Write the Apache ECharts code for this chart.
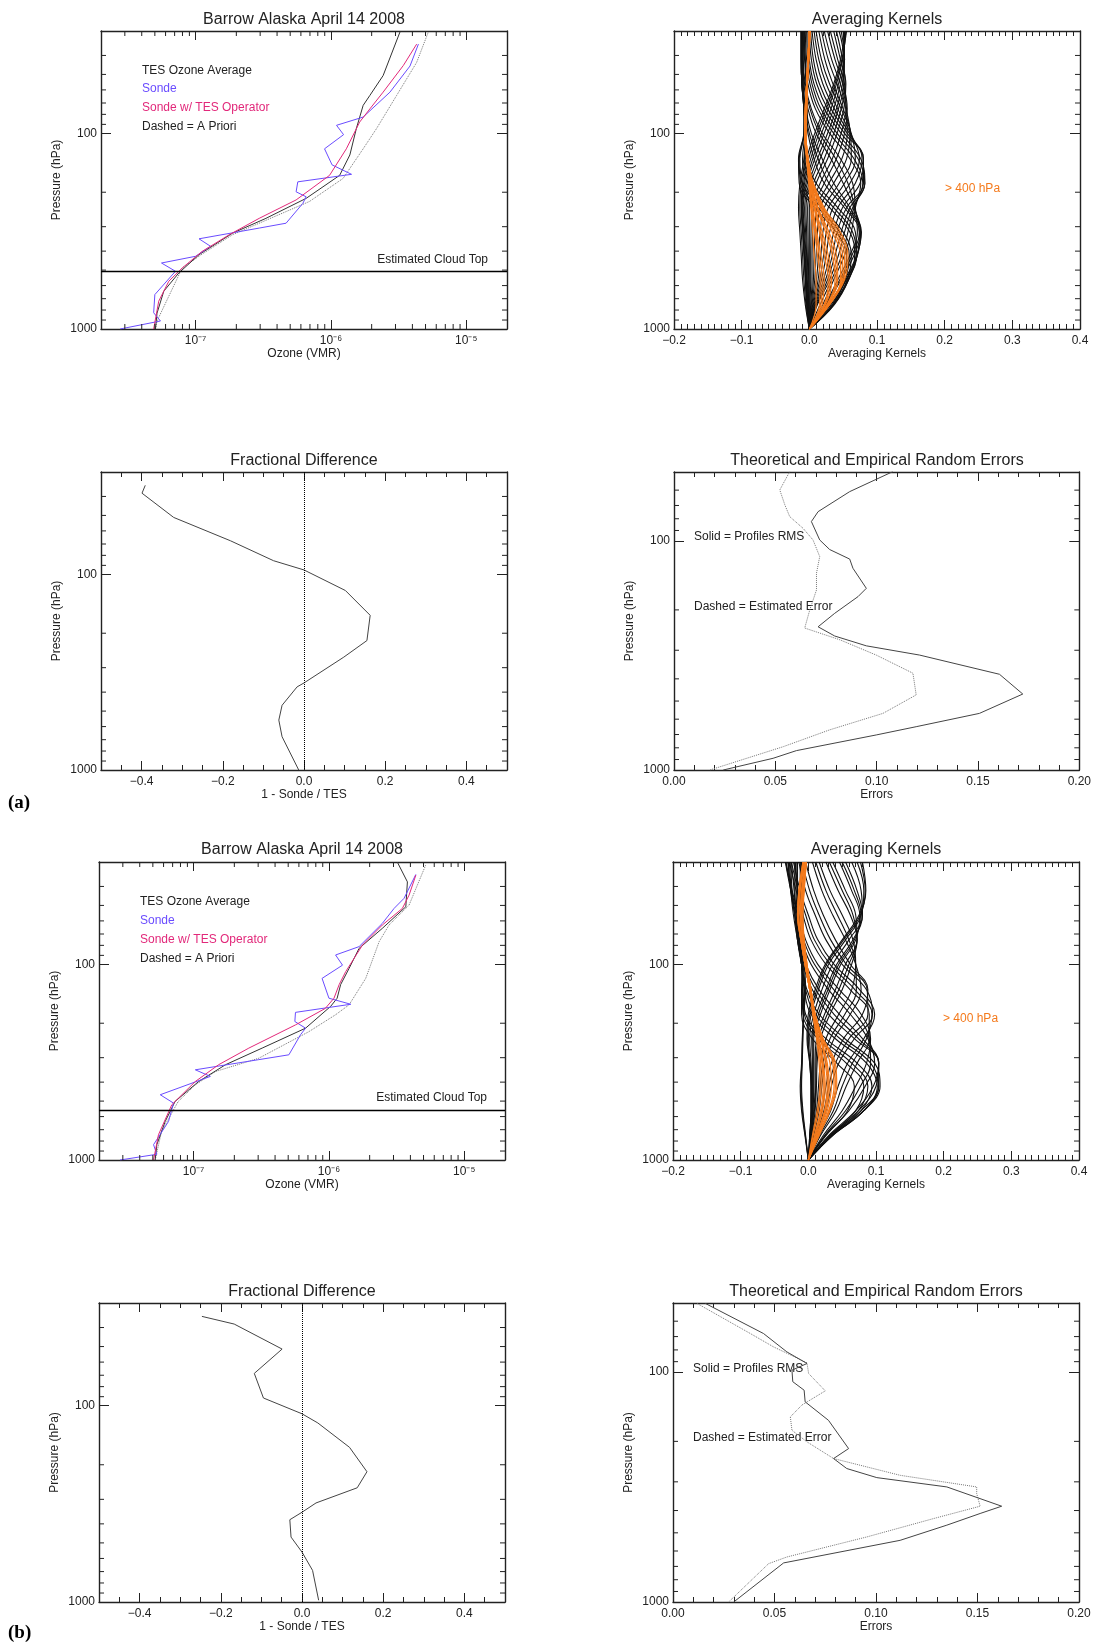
<!DOCTYPE html>
<html>
<head>
<meta charset="utf-8">
<script src="https://cdn.jsdelivr.net/npm/echarts@6.0.0/dist/echarts.min.js"></script>
<style>html,body{margin:0;padding:0;background:#fff}#main{width:1094px;height:1644px}</style>
</head>
<body>
<div id="main"></div>
<script>
// ---- ozone profiles, panel (a) : pressure (hPa) / VMR
var sondeA_p = [1000, 910, 826, 667, 507, 460, 425, 378, 346, 305, 288, 228, 211, 199, 177, 162, 145, 120, 101.6, 91, 82.6, 61.6, 45.3, 35];
var sondeA_v = [2.77e-8, 5.5e-8, 4.9e-8, 5.0e-8, 7.1e-8, 5.6e-8, 1.0e-7, 1.29e-7, 1.06e-7, 2.95e-7, 4.66e-7, 6.2e-7, 6.56e-7, 5.53e-7, 5.69e-7, 1.42e-6, 1.02e-6, 8.97e-7, 1.24e-6, 1.10e-6, 1.73e-6, 2.73e-6, 3.84e-6, 4.43e-6];
var tesA_p = [1000, 830, 641, 517, 417, 324, 272, 215, 164, 129, 94.7, 72, 64, 50.7, 30.3];
var tesA_v = [5.05e-8, 5.19e-8, 5.82e-8, 7.52e-8, 1.06e-7, 1.87e-7, 3.31e-7, 6.56e-7, 1.16e-6, 1.38e-6, 1.54e-6, 1.73e-6, 1.94e-6, 2.43e-6, 3.24e-6];
var opA_p = [1000, 721, 570, 488, 401, 330, 272, 219, 164, 120, 87.6, 75, 61.6, 45, 35];
var opA_v = [4.9e-8, 5.34e-8, 6.34e-8, 7.96e-8, 1.12e-7, 1.77e-7, 2.95e-7, 5.53e-7, 9.77e-7, 1.30e-6, 1.63e-6, 1.94e-6, 2.43e-6, 3.43e-6, 4.30e-6];
var aprA_p = [1000, 910, 488, 417, 330, 223, 170, 120, 94.7, 64, 43.4, 30.3];
var aprA_v = [5.05e-8, 5.19e-8, 7.96e-8, 1.1e-7, 1.87e-7, 6.94e-7, 1.23e-6, 1.73e-6, 2.17e-6, 3.06e-6, 4.30e-6, 5.25e-6];
var cloudTopA = 505;

// ---- ozone profiles, panel (b)
var sondeB_p = [1000, 935, 835, 635, 512, 464, 374, 346, 307, 290, 229, 212, 196, 176, 160, 149, 118, 101, 89.6, 81.2, 61.8, 51.8, 46, 34.7];
var sondeB_v = [2.86e-8, 5.35e-8, 5.06e-8, 6.53e-8, 7.11e-8, 5.67e-8, 1.33e-7, 1.03e-7, 3.03e-7, 5.06e-7, 6.17e-7, 6.72e-7, 5.6e-7, 5.66e-7, 1.45e-6, 1.0e-6, 8.9e-7, 1.26e-6, 1.12e-6, 1.67e-6, 2.48e-6, 3.03e-6, 3.59e-6, 4.39e-6];
var tesB_p = [1000, 835, 635, 502, 397, 326, 268, 212, 164, 149, 127, 104.8, 82.9, 65.5, 50.8, 37.9, 30];
var tesB_v = [5.2e-8, 5.35e-8, 6.17e-8, 7.3e-8, 1.09e-7, 1.72e-7, 3.21e-7, 6.72e-7, 1.03e-6, 1.15e-6, 1.22e-6, 1.41e-6, 1.67e-6, 2.48e-6, 3.7e-6, 3.8e-6, 3.2e-6];
var opB_p = [1000, 743, 522, 397, 326, 268, 204, 168, 149, 127, 109, 79.7, 63, 51.8, 44.3, 35];
var opB_v = [5.06e-8, 5.5e-8, 6.9e-8, 1.03e-7, 1.53e-7, 2.56e-7, 5.66e-7, 9.4e-7, 1.09e-6, 1.19e-6, 1.33e-6, 1.77e-6, 2.48e-6, 3.49e-6, 3.91e-6, 4.39e-6];
var aprB_p = [1000, 714, 502, 413, 353, 302, 221, 181, 161, 118, 76.6, 63, 49.8, 31];
var aprB_v = [5.2e-8, 5.8e-8, 7.7e-8, 1.03e-7, 1.45e-7, 3.03e-7, 7.1e-7, 1.12e-6, 1.41e-6, 1.87e-6, 2.35e-6, 2.78e-6, 3.91e-6, 5.2e-6];
var cloudTopB = 558;

// ---- fractional difference 1 - Sonde/TES
var fdA_p = [35.1, 38.5, 51.2, 67.4, 85.2, 95, 121, 162, 218, 265, 359, 376, 467, 556, 676, 1000];
var fdA_v = [-0.391, -0.399, -0.321, -0.181, -0.075, 0.0, 0.102, 0.163, 0.155, 0.098, 0.0, -0.017, -0.054, -0.062, -0.054, -0.013];
var fdB_p = [35.1, 38.4, 51.5, 68.5, 91.4, 110, 122.5, 163, 217, 262, 313, 349, 381, 467, 557, 690, 980];
var fdB_v = [-0.2465, -0.167, -0.049, -0.1175, -0.095, 0.0, 0.039, 0.117, 0.160, 0.136, 0.0345, 0.0, -0.030, -0.027, 0.0, 0.026, 0.041];

// ---- random errors (solid = profiles RMS, dashed = estimated)
var rmsA_p = [49.8, 60.9, 74.5, 82.3, 99, 109, 120, 131.6, 161, 175, 207, 237, 260, 287, 315, 382, 466, 566, 647, 703, 823, 889, 1000];
var rmsA_v = [0.108, 0.0867, 0.0711, 0.0678, 0.0719, 0.0768, 0.0867, 0.0883, 0.0949, 0.0908, 0.0793, 0.0711, 0.0793, 0.0949, 0.1212, 0.1606, 0.1721, 0.1507, 0.1195, 0.0998, 0.0604, 0.0489, 0.0243];
var estA_p = [49.8, 59.9, 69.6, 78.3, 88.1, 99, 117, 138.4, 163.7, 200, 240, 270, 315, 378, 470, 566, 668, 791, 1000];
var estA_v = [0.0571, 0.0522, 0.0547, 0.0571, 0.0637, 0.0686, 0.0719, 0.0703, 0.0703, 0.067, 0.0645, 0.0818, 0.0998, 0.1179, 0.1195, 0.1031, 0.0768, 0.0539, 0.0177];
var rmsB_p = [50.2, 67.9, 81.6, 91.7, 98, 110, 119.8, 134.6, 162, 215, 237.6, 262.6, 287.6, 315.7, 383, 412, 463, 539, 676, 1000];
var rmsB_v = [0.0159, 0.0446, 0.0561, 0.066, 0.0586, 0.059, 0.0646, 0.0651, 0.0766, 0.0865, 0.0791, 0.0856, 0.1004, 0.1349, 0.1619, 0.1513, 0.1349, 0.1119, 0.0545, 0.0299];
var estB_p = [50.2, 67.9, 77.6, 91, 101.3, 120.6, 139, 156.5, 179, 201, 237.6, 281, 315.7, 337.5, 383, 433.6, 521, 637, 681, 1000];
var estB_v = [0.0118, 0.0381, 0.0495, 0.066, 0.0668, 0.075, 0.0635, 0.0578, 0.0586, 0.066, 0.0791, 0.1119, 0.1496, 0.1496, 0.1513, 0.1283, 0.0955, 0.0561, 0.0471, 0.0274];

// ---- averaging kernel rows, read at these levels
var akP = [1000, 750, 560, 420, 320, 240, 180, 135, 100, 75, 56, 42, 30];
var akBlackA = [
  [0,-0.004,-0.006,-0.008,-0.010,-0.012,-0.010,-0.004,0.008,0.022,0.036,0.046,0.053],
  [0,-0.0035,-0.0055,-0.0075,-0.0095,-0.0115,-0.0085,-0.001,0.011,0.025,0.038,0.048,0.055],
  [0,-0.003,-0.005,-0.007,-0.009,-0.011,-0.007,0.002,0.014,0.028,0.040,0.049,0.054],
  [0,-0.0025,-0.0045,-0.006,-0.008,-0.010,-0.005,0.005,0.018,0.032,0.043,0.051,0.052],
  [0,-0.002,-0.004,-0.005,-0.007,-0.009,-0.003,0.008,0.022,0.036,0.046,0.052,0.050],
  [0,-0.0015,-0.003,-0.004,-0.0055,-0.007,-0.0005,0.012,0.027,0.040,0.049,0.052,0.047],
  [0,-0.001,-0.002,-0.003,-0.004,-0.005,0.002,0.016,0.031,0.043,0.051,0.051,0.044],
  [0,-0.0005,-0.001,-0.0015,-0.002,-0.0025,0.006,0.022,0.036,0.047,0.053,0.049,0.040],
  [0,0.000,0.000,0.000,0.000,0.000,0.010,0.027,0.041,0.051,0.054,0.046,0.036],
  [0,0.001,0.002,0.002,0.0025,0.0035,0.016,0.034,0.047,0.054,0.052,0.042,0.031],
  [0,0.002,0.004,0.004,0.005,0.007,0.022,0.040,0.052,0.056,0.050,0.038,0.027],
  [0,0.003,0.006,0.007,0.0085,0.011,0.029,0.048,0.056,0.055,0.046,0.033,0.022],
  [0,0.004,0.008,0.010,0.012,0.016,0.036,0.055,0.060,0.054,0.041,0.028,0.018],
  [0,0.005,0.0105,0.0135,0.016,0.022,0.044,0.062,0.061,0.050,0.035,0.023,0.014],
  [0,0.006,0.013,0.017,0.020,0.028,0.052,0.068,0.062,0.047,0.030,0.018,0.010],
  [0,0.007,0.0155,0.021,0.025,0.035,0.060,0.074,0.061,0.042,0.025,0.014,0.007],
  [0,0.008,0.018,0.025,0.030,0.042,0.068,0.078,0.059,0.037,0.020,0.010,0.004],
  [0,0.009,0.021,0.030,0.036,0.049,0.075,0.080,0.056,0.032,0.015,0.006,0.002],
  [0,0.010,0.024,0.034,0.041,0.055,0.080,0.080,0.052,0.027,0.011,0.003,0.000],
  [0,0.011,0.027,0.038,0.047,0.060,0.082,0.076,0.047,0.022,0.007,0.000,-0.002],
  [0,0.012,0.030,0.043,0.052,0.064,0.082,0.072,0.041,0.017,0.004,-0.002,-0.004],
  [0,0.016,0.033,0.048,0.057,0.066,0.079,0.066,0.036,0.013,0.001,-0.004,-0.006],
  [0,0.020,0.036,0.052,0.062,0.068,0.076,0.060,0.030,0.009,-0.002,-0.006,-0.007],
  [0,0.023,0.042,0.060,0.071,0.068,0.064,0.046,0.019,0.003,-0.006,-0.009,-0.009],
  [0,0.024,0.045,0.063,0.074,0.067,0.057,0.039,0.015,0.001,-0.007,-0.0095,-0.0095],
  [0,0.025,0.047,0.066,0.076,0.066,0.050,0.032,0.010,-0.002,-0.008,-0.010,-0.010],
  [0,0.028,0.052,0.070,0.077,0.060,0.036,0.019,0.003,-0.005,-0.010,-0.011,-0.011],
  [0,0.030,0.054,0.071,0.076,0.056,0.029,0.013,0.000,-0.006,-0.0105,-0.0115,-0.0115],
  [0,0.032,0.055,0.071,0.074,0.052,0.022,0.007,-0.002,-0.007,-0.011,-0.012,-0.012],
  [0,0.035,0.057,0.070,0.068,0.042,0.010,-0.003,-0.005,-0.008,-0.011,-0.012,-0.012],
  [0,0.036,0.058,0.069,0.064,0.036,0.004,-0.007,-0.006,-0.008,-0.011,-0.012,-0.012],
  [0,0.037,0.058,0.067,0.060,0.030,-0.002,-0.010,-0.007,-0.008,-0.011,-0.012,-0.012],
  [0,0.036,0.056,0.062,0.050,0.018,-0.010,-0.014,-0.008,-0.008,-0.010,-0.011,-0.011],
  [0,0.035,0.053,0.059,0.045,0.013,-0.013,-0.015,-0.008,-0.0075,-0.0095,-0.0105,-0.0105],
  [0,0.034,0.050,0.055,0.040,0.008,-0.015,-0.016,-0.008,-0.007,-0.009,-0.010,-0.010],
  [0,-0.005,-0.008,-0.010,-0.012,-0.014,-0.012,-0.006,-0.004,-0.003,-0.004,-0.006,-0.008],
  [0,-0.006,-0.010,-0.012,-0.014,-0.016,-0.014,-0.008,-0.005,-0.004,-0.005,-0.007,-0.010]
];
var akOrangeA = [
  [0,0.030,0.052,0.057,0.046,0.022,0.006,-0.002,-0.005,-0.004,-0.003,-0.001,0.001],
  [0,0.0295,0.0505,0.0545,0.043,0.0205,0.0055,-0.002,-0.005,-0.004,-0.003,-0.001,0.001],
  [0,0.029,0.049,0.052,0.040,0.019,0.005,-0.002,-0.005,-0.004,-0.003,-0.001,0.001],
  [0,0.0285,0.0475,0.049,0.037,0.0175,0.0045,-0.002,-0.005,-0.004,-0.003,-0.001,0.001],
  [0,0.028,0.046,0.046,0.034,0.016,0.004,-0.002,-0.005,-0.004,-0.003,-0.001,0.001],
  [0,0.027,0.042,0.040,0.029,0.013,0.003,-0.002,-0.006,-0.005,-0.003,-0.001,0.001],
  [0,0.0265,0.040,0.037,0.0265,0.012,0.003,-0.002,-0.006,-0.005,-0.003,-0.0015,0.0005],
  [0,0.026,0.038,0.034,0.024,0.011,0.003,-0.002,-0.006,-0.005,-0.003,-0.002,0.000],
  [0,0.024,0.033,0.028,0.019,0.009,0.002,-0.003,-0.006,-0.005,-0.004,-0.002,0.000],
  [0,0.023,0.0305,0.025,0.017,0.008,0.0015,-0.003,-0.006,-0.005,-0.004,-0.002,0.000],
  [0,0.022,0.028,0.022,0.015,0.007,0.001,-0.003,-0.006,-0.005,-0.004,-0.002,0.000],
  [0,0.019,0.022,0.017,0.011,0.005,0.000,-0.003,-0.007,-0.006,-0.004,-0.002,0.000],
  [0,0.017,0.019,0.0145,0.0095,0.004,0.000,-0.0035,-0.007,-0.006,-0.004,-0.002,0.000],
  [0,0.015,0.016,0.012,0.008,0.003,0.000,-0.004,-0.007,-0.006,-0.004,-0.002,0.000],
  [0,0.010,0.010,0.007,0.005,0.002,-0.001,-0.004,-0.007,-0.006,-0.004,-0.002,0.000]
];
var akBlackB = [
  [0,0.002,0.004,0.004,0.002,-0.002,0.000,0.010,0.025,0.050,0.075,0.085,0.080],
  [0,0.0025,0.0045,0.0045,0.003,-0.001,0.002,0.0125,0.027,0.052,0.077,0.084,0.077],
  [0,0.002,0.004,0.004,0.002,0.000,0.004,0.015,0.030,0.055,0.078,0.082,0.072],
  [0,0.003,0.005,0.005,0.004,0.002,0.008,0.020,0.036,0.060,0.080,0.078,0.064],
  [0,0.003,0.006,0.006,0.006,0.005,0.012,0.026,0.042,0.066,0.080,0.072,0.055],
  [0,0.0035,0.0065,0.007,0.007,0.0065,0.015,0.029,0.045,0.068,0.078,0.068,0.050],
  [0,0.004,0.007,0.008,0.008,0.008,0.018,0.032,0.048,0.070,0.076,0.064,0.046],
  [0,0.004,0.008,0.010,0.010,0.012,0.024,0.040,0.055,0.072,0.070,0.055,0.036],
  [0,0.0045,0.009,0.011,0.0115,0.015,0.028,0.045,0.060,0.072,0.066,0.050,0.031],
  [0,0.005,0.010,0.012,0.013,0.018,0.032,0.050,0.064,0.072,0.062,0.044,0.026],
  [0,0.006,0.012,0.015,0.018,0.026,0.045,0.064,0.070,0.066,0.050,0.032,0.016],
  [0,0.007,0.014,0.0175,0.0215,0.032,0.054,0.071,0.070,0.060,0.043,0.026,0.011],
  [0,0.008,0.016,0.020,0.025,0.038,0.062,0.078,0.070,0.055,0.036,0.020,0.006],
  [0,0.010,0.020,0.026,0.034,0.052,0.080,0.088,0.062,0.040,0.022,0.008,-0.004],
  [0,0.011,0.023,0.030,0.040,0.060,0.088,0.087,0.056,0.033,0.016,0.002,-0.009],
  [0,0.012,0.026,0.034,0.045,0.068,0.095,0.086,0.050,0.026,0.010,-0.004,-0.014],
  [0,0.015,0.033,0.044,0.058,0.082,0.098,0.076,0.038,0.014,0.000,-0.012,-0.022],
  [0,0.0165,0.037,0.050,0.065,0.086,0.094,0.069,0.032,0.009,-0.004,-0.015,-0.025],
  [0,0.018,0.041,0.056,0.072,0.090,0.090,0.062,0.026,0.004,-0.008,-0.018,-0.028],
  [0,0.022,0.050,0.070,0.086,0.092,0.078,0.046,0.014,-0.004,-0.014,-0.024,-0.033],
  [0,0.024,0.055,0.077,0.092,0.090,0.070,0.038,0.009,-0.007,-0.016,-0.025,-0.0335],
  [0,0.026,0.060,0.084,0.098,0.088,0.062,0.030,0.004,-0.010,-0.018,-0.026,-0.034],
  [0,0.030,0.070,0.096,0.104,0.080,0.046,0.016,-0.004,-0.014,-0.020,-0.026,-0.030],
  [0,0.0315,0.074,0.100,0.104,0.074,0.038,0.011,-0.006,-0.015,-0.020,-0.025,-0.028],
  [0,0.033,0.078,0.104,0.104,0.068,0.030,0.006,-0.008,-0.016,-0.020,-0.024,-0.026],
  [0,0.035,0.082,0.106,0.098,0.054,0.016,-0.002,-0.010,-0.016,-0.018,-0.020,-0.020],
  [0,0.0355,0.082,0.104,0.092,0.047,0.010,-0.004,-0.010,-0.015,-0.0165,-0.018,-0.018],
  [0,0.036,0.082,0.102,0.086,0.040,0.004,-0.006,-0.010,-0.014,-0.015,-0.016,-0.016],
  [0,0.035,0.078,0.094,0.072,0.026,-0.004,-0.008,-0.010,-0.012,-0.012,-0.012,-0.012],
  [0,0.0335,0.074,0.088,0.064,0.020,-0.006,-0.0085,-0.0095,-0.011,-0.011,-0.011,-0.011],
  [0,0.032,0.070,0.082,0.056,0.014,-0.008,-0.009,-0.009,-0.010,-0.010,-0.010,-0.010],
  [0,0.025,0.058,0.068,0.042,0.006,-0.010,-0.010,-0.008,-0.008,-0.008,-0.008,-0.006],
  [0,-0.004,-0.008,-0.010,-0.009,-0.008,-0.007,-0.006,-0.010,-0.016,-0.022,-0.026,-0.030],
  [0,-0.0045,-0.009,-0.011,-0.0095,-0.0085,-0.007,-0.005,-0.008,-0.013,-0.018,-0.021,-0.025],
  [0,-0.005,-0.010,-0.012,-0.010,-0.009,-0.007,-0.004,-0.006,-0.010,-0.014,-0.016,-0.020]
];
var akOrangeB = [
  [0,0.016,0.032,0.042,0.040,0.022,0.010,0.004,-0.002,-0.006,-0.008,-0.006,-0.003],
  [0,0.0155,0.031,0.040,0.038,0.0215,0.010,0.004,-0.002,-0.0065,-0.0085,-0.0065,-0.003],
  [0,0.015,0.030,0.038,0.036,0.021,0.010,0.004,-0.002,-0.007,-0.009,-0.007,-0.003],
  [0,0.014,0.028,0.034,0.032,0.020,0.010,0.003,-0.003,-0.008,-0.010,-0.008,-0.004],
  [0,0.013,0.026,0.031,0.028,0.019,0.009,0.003,-0.003,-0.008,-0.011,-0.009,-0.004],
  [0,0.0125,0.025,0.0295,0.0265,0.0185,0.009,0.003,-0.0035,-0.0085,-0.0115,-0.0095,-0.0045],
  [0,0.012,0.024,0.028,0.025,0.018,0.009,0.003,-0.004,-0.009,-0.012,-0.010,-0.005],
  [0,0.011,0.021,0.025,0.022,0.016,0.008,0.002,-0.004,-0.010,-0.014,-0.012,-0.006],
  [0,0.010,0.0195,0.0235,0.021,0.015,0.008,0.002,-0.0045,-0.0105,-0.0145,-0.0125,-0.0065],
  [0,0.009,0.018,0.022,0.020,0.014,0.008,0.002,-0.005,-0.011,-0.015,-0.013,-0.007],
  [0,0.007,0.015,0.019,0.018,0.013,0.007,0.002,-0.005,-0.011,-0.016,-0.014,-0.008],
  [0,0.006,0.013,0.017,0.016,0.012,0.0065,0.002,-0.005,-0.011,-0.016,-0.014,-0.008]
];

// ---- minor tick values
var pMinor30 = [40, 50, 60, 70, 80, 90, 200, 300, 400, 500, 600, 700, 800, 900];
var pMinor50 = [60, 70, 80, 90, 200, 300, 400, 500, 600, 700, 800, 900];
var vmrMinor = [3e-8, 4e-8, 5e-8, 6e-8, 7e-8, 8e-8, 9e-8, 2e-7, 3e-7, 4e-7, 5e-7, 6e-7, 7e-7, 8e-7, 9e-7,
                2e-6, 3e-6, 4e-6, 5e-6, 6e-6, 7e-6, 8e-6, 9e-6];

var FONT = '"Liberation Sans", Arial, Helvetica, sans-serif';
var INK = '#222';
var BLUE = '#6a4cff';
var PINK = '#e2287a';
var ORANGE = '#f47a1c';

var chart = echarts.init(document.getElementById('main'));

var grids = [
  {left: 101, top: 31, width: 406, height: 298},
  {left: 674, top: 31, width: 406, height: 298},
  {left: 101, top: 472, width: 406, height: 298},
  {left: 674, top: 472, width: 406, height: 298},
  {left: 99, top: 862, width: 406, height: 298},
  {left: 673, top: 862, width: 406, height: 298},
  {left: 99, top: 1303, width: 406, height: 299},
  {left: 673, top: 1303, width: 406, height: 299}
];
var kinds = ['oz', 'ak', 'fd', 'err', 'oz', 'ak', 'fd', 'err'];

function pairs(p, v) { return p.map(function (pp, i) { return [v[i], pp]; }); }
function minus(s) { return s.replace('-', '\u2212'); }
var supMap = {'-': '\u207b', '0': '\u2070', '1': '\u00b9', '2': '\u00b2', '3': '\u00b3', '4': '\u2074',
              '5': '\u2075', '6': '\u2076', '7': '\u2077', '8': '\u2078', '9': '\u2079'};
function decadeOnly(v) {
  var l = Math.log10(v);
  return Math.abs(l - Math.round(l)) < 1e-6 ? String(Math.round(v)) : '';
}
function powLabel(v) {
  var l = Math.log10(v), e = Math.round(l);
  if (Math.abs(l - e) > 1e-6) return '';
  return '10' + String(e).split('').map(function (c) { return supMap[c]; }).join('');
}

var xRange = {oz: [2e-8, 2e-5], ak: [-0.2, 0.4], fd: [-0.5, 0.5], err: [0, 0.2]};
var xName = {oz: 'Ozone (VMR)', ak: 'Averaging Kernels', fd: '1 - Sonde / TES', err: 'Errors'};
function yMin(kind) { return kind === 'err' ? 50 : 30; }

var xAxes = [], yAxes = [];
grids.forEach(function (g, i) {
  var k = kinds[i];
  ['bottom', 'top'].forEach(function (pos) {
    var ax = {
      gridIndex: i, position: pos, min: xRange[k][0], max: xRange[k][1],
      axisLine: {show: true, onZero: false, lineStyle: {color: INK, width: 1.4}},
      splitLine: {show: false},
      axisTick: {show: true, inside: true, length: 9, lineStyle: {color: INK}},
      axisLabel: {show: pos === 'bottom', color: INK, fontSize: 12, fontFamily: FONT, margin: 6}
    };
    if (k === 'oz') {
      ax.type = 'log'; ax.logBase = 10;
      ax.axisLabel.formatter = powLabel;
    } else {
      ax.type = 'value';
      ax.minorTick = {show: true, length: 5, lineStyle: {color: INK}};
      if (k === 'ak') { ax.interval = 0.1; ax.minorTick.splitNumber = 10;
        ax.axisLabel.formatter = function (v) { return minus(v.toFixed(1)); }; }
      if (k === 'fd') { ax.splitNumber = 5; ax.minorTick.splitNumber = 4;
        ax.axisLabel.showMinLabel = false; ax.axisLabel.showMaxLabel = false;
        ax.axisLabel.formatter = function (v) { return minus(v.toFixed(1)); }; }
      if (k === 'err') { ax.interval = 0.05; ax.minorTick.splitNumber = 5;
        ax.axisLabel.formatter = function (v) { return v.toFixed(2); }; }
    }
    if (pos === 'bottom') {
      ax.name = xName[k]; ax.nameLocation = 'middle'; ax.nameGap = 19;
      ax.nameTextStyle = {color: INK, fontSize: 12, fontFamily: FONT};
    }
    xAxes.push(ax);
  });
  ['left', 'right'].forEach(function (pos) {
    var ay = {
      gridIndex: i, position: pos, type: 'log', logBase: 10, min: yMin(k), max: 1000, inverse: true,
      axisLine: {show: true, onZero: false, lineStyle: {color: INK, width: 1.4}},
      splitLine: {show: false},
      axisTick: {show: true, inside: true, length: 10, lineStyle: {color: INK}},
      axisLabel: {show: pos === 'left', color: INK, fontSize: 12, fontFamily: FONT, margin: 4, formatter: decadeOnly}
    };
    if (pos === 'left') {
      ay.name = 'Pressure (hPa)'; ay.nameLocation = 'middle'; ay.nameGap = 38; ay.nameRotate = 90;
      ay.nameTextStyle = {color: INK, fontSize: 12, fontFamily: FONT};
    }
    yAxes.push(ay);
  });
});

var series = [];
function line(i, data, color, opts) {
  var s = {
    type: 'line', xAxisIndex: 2 * i, yAxisIndex: 2 * i, data: data, symbol: 'none',
    showSymbol: false, silent: true, animation: false,
    lineStyle: {color: color, width: 1, type: 'solid'}
  };
  if (opts) { for (var key in opts) s[key] = opts[key]; }
  return s;
}
function tickSeries(i, pTicks, xTicks) {
  var k = kinds[i], xr = xRange[k], yr = [yMin(k), 1000];
  var data = pTicks.map(function (p) { return [xr[0], p, 0]; })
    .concat(xTicks.map(function (v) { return [v, yr[1], 1]; }));
  return {
    type: 'custom', xAxisIndex: 2 * i, yAxisIndex: 2 * i, silent: true, animation: false,
    encode: {x: 0, y: 1}, data: data, z: 5,
    renderItem: function (params, api) {
      var L = 5, st = {stroke: INK, lineWidth: 1};
      if (api.value(2) === 0) {
        var a = api.coord([xr[0], api.value(1)]), b = api.coord([xr[1], api.value(1)]);
        return {type: 'group', children: [
          {type: 'line', shape: {x1: a[0], y1: a[1], x2: a[0] + L, y2: a[1]}, style: st},
          {type: 'line', shape: {x1: b[0], y1: b[1], x2: b[0] - L, y2: b[1]}, style: st}]};
      }
      var c = api.coord([api.value(0), yr[1]]), d = api.coord([api.value(0), yr[0]]);
      return {type: 'group', children: [
        {type: 'line', shape: {x1: c[0], y1: c[1], x2: c[0], y2: c[1] - L}, style: st},
        {type: 'line', shape: {x1: d[0], y1: d[1], x2: d[0], y2: d[1] + L}, style: st}]};
    }
  };
}
function hLine(val) {
  return {symbol: ['none', 'none'], silent: true, animation: false, label: {show: false},
    lineStyle: {color: '#000', width: 1.3, type: 'solid'}, data: [{yAxis: val}]};
}
function zeroLine() {
  return {symbol: ['none', 'none'], silent: true, animation: false, label: {show: false},
    lineStyle: {color: '#000', width: 1, type: 'dotted'}, data: [{xAxis: 0}]};
}

// ozone panels
[[0, sondeA_p, sondeA_v, tesA_p, tesA_v, opA_p, opA_v, aprA_p, aprA_v, cloudTopA],
 [4, sondeB_p, sondeB_v, tesB_p, tesB_v, opB_p, opB_v, aprB_p, aprB_v, cloudTopB]].forEach(function (d) {
  var i = d[0];
  series.push(line(i, pairs(d[7], d[8]), '#777', {lineStyle: {color: '#777', width: 1, type: 'dotted'}}));
  series.push(line(i, pairs(d[3], d[4]), '#333', {markLine: hLine(d[9])}));
  series.push(line(i, pairs(d[1], d[2]), BLUE));
  series.push(line(i, pairs(d[5], d[6]), PINK));
  series.push(tickSeries(i, pMinor30, vmrMinor));
});

// averaging kernels
[[1, akBlackA, akOrangeA], [5, akBlackB, akOrangeB]].forEach(function (d) {
  var i = d[0];
  d[1].forEach(function (row) {
    series.push(line(i, pairs(akP, row), '#111', {smooth: 0.4, lineStyle: {color: '#111', width: 1.1}}));
  });
  d[2].forEach(function (row) {
    series.push(line(i, pairs(akP, row), ORANGE, {smooth: 0.4, lineStyle: {color: ORANGE, width: 1.2}}));
  });
  series.push(tickSeries(i, pMinor30, []));
});

// fractional difference
[[2, fdA_p, fdA_v], [6, fdB_p, fdB_v]].forEach(function (d) {
  series.push(line(d[0], pairs(d[1], d[2]), '#444', {markLine: zeroLine()}));
  series.push(tickSeries(d[0], pMinor30, []));
});

// errors
[[3, rmsA_p, rmsA_v, estA_p, estA_v], [7, rmsB_p, rmsB_v, estB_p, estB_v]].forEach(function (d) {
  series.push(line(d[0], pairs(d[3], d[4]), '#777', {lineStyle: {color: '#777', width: 1, type: 'dotted'}}));
  series.push(line(d[0], pairs(d[1], d[2]), '#444'));
  series.push(tickSeries(d[0], pMinor50, []));
});

function txt(x, y, s, color, size, align, weight, family) {
  return {type: 'text', x: x, y: y, silent: true, style: {
    text: s, fill: color || INK,
    font: (weight || 'normal') + ' ' + (size || 12) + 'px ' + (family || FONT),
    textAlign: align || 'left', align: align || 'left',
    textVerticalAlign: 'middle', verticalAlign: 'middle'}};
}

var graphics = [
  txt(304, 20, 'Barrow Alaska April 14 2008', INK, 16, 'center'),
  txt(877, 20, 'Averaging Kernels', INK, 16, 'center'),
  txt(304, 461, 'Fractional Difference', INK, 16, 'center'),
  txt(877, 461, 'Theoretical and Empirical Random Errors', INK, 16, 'center'),
  txt(302, 850, 'Barrow Alaska April 14 2008', INK, 16, 'center'),
  txt(876, 850, 'Averaging Kernels', INK, 16, 'center'),
  txt(302, 1292, 'Fractional Difference', INK, 16, 'center'),
  txt(876, 1292, 'Theoretical and Empirical Random Errors', INK, 16, 'center'),

  txt(142, 71, 'TES Ozone Average', INK),
  txt(142, 89, 'Sonde', BLUE),
  txt(142, 108, 'Sonde w/ TES Operator', PINK),
  txt(142, 127, 'Dashed = A Priori', INK),
  txt(488, 260, 'Estimated Cloud Top', INK, 12, 'right'),
  txt(945, 189, '> 400 hPa', ORANGE),
  txt(694, 537, 'Solid = Profiles RMS', INK),
  txt(694, 607, 'Dashed = Estimated Error', INK),

  txt(140, 902, 'TES Ozone Average', INK),
  txt(140, 921, 'Sonde', BLUE),
  txt(140, 940, 'Sonde w/ TES Operator', PINK),
  txt(140, 959, 'Dashed = A Priori', INK),
  txt(487, 1098, 'Estimated Cloud Top', INK, 12, 'right'),
  txt(943, 1019, '> 400 hPa', ORANGE),
  txt(693, 1369, 'Solid = Profiles RMS', INK),
  txt(693, 1438, 'Dashed = Estimated Error', INK),

  txt(8, 803, '(a)', '#000', 19, 'left', 'bold', '"Liberation Serif", "Times New Roman", serif'),
  txt(8, 1633, '(b)', '#000', 19, 'left', 'bold', '"Liberation Serif", "Times New Roman", serif')
];

chart.setOption({
  animation: false,
  backgroundColor: '#fff',
  grid: grids,
  xAxis: xAxes,
  yAxis: yAxes,
  series: series,
  graphic: graphics
});
</script>
</body>
</html>
